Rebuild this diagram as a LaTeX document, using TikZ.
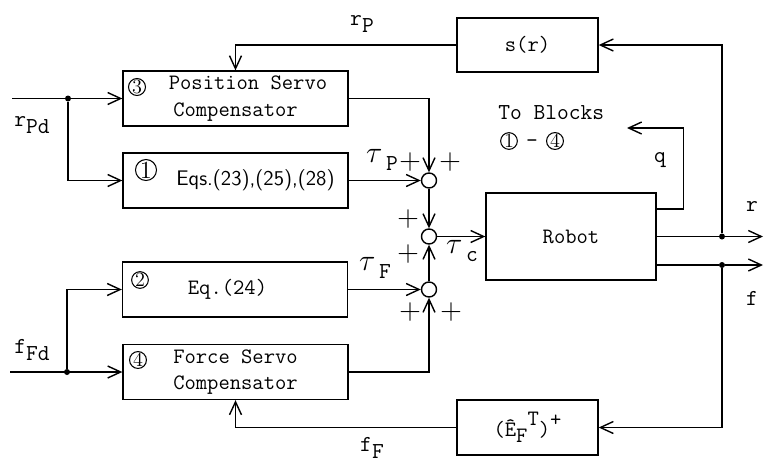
\documentclass[tikz,border=0pt]{standalone}
\usepackage{fontspec}
\usepackage{amsmath}
\usepackage{tikz}
\usetikzlibrary{arrows.meta,positioning,calc}
\newcommand\lb[2]{#1\raisebox{-0.7ex}{#2}}
\newcommand\tu[1]{{\fontsize{16}{16}\selectfont$\tau$}\raisebox{-0.9ex}{\,#1}}

\begin{document}
\begin{tikzpicture}[x=0.02cm,y=-0.02cm,
    p/.style={draw,line width=0.8pt,inner sep=1mm,align=center,font=\fontsize{12.5}{15}\selectfont\ttfamily},
    sj/.style={draw,circle,line width=0.8pt,minimum size=3mm,inner sep=0pt},
    cn/.style={draw,circle,line width=0.6pt,inner sep=0pt,minimum size=3.3mm,font=\fontsize{11.5}{11.5}\selectfont\rmfamily},
    a/.style={-{Straight Barb[length=2.6mm,width=2.4mm]},line width=0.8pt},
    l/.style={line width=0.8pt},
    t/.style={inner sep=0pt,font=\fontsize{13}{15}\selectfont\ttfamily},
    pl/.style={inner sep=0pt,font=\fontsize{17}{17}\selectfont\rmfamily},
    dot/.style={circle,fill,inner sep=0pt,minimum size=1.2mm}]
    \useasboundingbox (0,0) rectangle (764,464);
    % blocks
    \node[p,minimum width=4.5cm,minimum height=1.06cm] (pos) at (235.5,98.5)
      {\hspace*{5mm}Position Servo\\Compensator};
    \node[p,minimum width=4.5cm,minimum height=1.1cm] (eqs) at (235.5,180.5)
      {\hspace*{8mm}\raisebox{-3pt}{\fontsize{12}{13}\selectfont\sffamily Eqs.(23),(25),(28)}};
    \node[p,minimum width=4.5cm,minimum height=1.1cm] (eq24) at (235,289.5) {Eq.(24)\hspace*{3mm}};
    \node[p,minimum width=4.5cm,minimum height=1.08cm] (frc) at (235.5,372)
      {Force Servo\\Compensator};
    \node[p,minimum width=2.82cm,minimum height=1.08cm] (sr) at (527.5,45) {s(r)};
    \node[p,minimum width=3.4cm,minimum height=1.74cm] (robot) at (571,236.5) {Robot};
    \node[p,minimum width=2.82cm,minimum height=1.1cm] (ef) at (527.5,427.5)
      {(\^{E}\raisebox{-0.7ex}{F}\raisebox{1.1ex}{T})\raisebox{1ex}{+}};
    % circled block numbers
    \node[cn] (n3) at (137,87) {3};
    \node[cn,minimum size=4.2mm,font=\fontsize{14}{14}\selectfont\rmfamily] (n1) at (146,170) {1};
    \node[cn] (n2) at (140,280) {2};
    \node[cn] (n4) at (138,360) {4};
    % summing junctions and branch points
    \node[sj] (c1) at (429,180.5) {};
    \node[sj] (c2) at (429,236.5) {};
    \node[sj] (c3) at (429,289.5) {};
    \node[dot] (d1) at (68,98.5) {};
    \node[dot] (d2) at (67,372) {};
    \node[dot] (d3) at (722,236.5) {};
    \node[dot] (d4) at (722,265) {};
    \coordinate (inP) at (12,98.5);
    \coordinate (inF) at (10,372);
    \coordinate (outR) at (763,236.5);
    \coordinate (outF) at (763,265);
    \coordinate (qend) at (627,128);
    % connectors
    \draw[a] (inP) -- (pos.west); \draw[a] (d1) |- (eqs.west);
    \draw[a] (inF) -- (frc.west); \draw[a] (d2) |- (eq24.west);
    \draw[a] (pos.east) -| (c1.north); \draw[a] (eqs.east) -- (c1.west);
    \draw[a] (eq24.east) -- (c3.west); \draw[a] (frc.east) -| (c3.south);
    \draw[a] (c1) -- (c2); \draw[a] (c3) -- (c2); \draw[a] (c2) -- (robot.west);
    \draw[l] (robot.east |- d3) -- (d3); \draw[a] (d3) -- (outR);
    \draw[l] (robot.east |- d4) -- (d4); \draw[a] (d4) -- (outF);
    \draw[a] (robot.east |- 0,209) -- ++(27,0) |- (qend);
    \draw[a] (d3) |- (sr.east); \draw[a] (sr.west) -| (pos.north);
    \draw[a] (d4) |- (ef.east); \draw[a] (ef.west) -| (frc.south);
    % labels
    \node[t] (lrpd) at (32,125) {\lb{r}{Pd}};
    \node[t] (lffd) at (32,350) {\lb{f}{Fd}};
    \node[t] (lrp) at (362,24) {\lb{r}{P}};
    \node[t] (lff) at (372,448) {\lb{f}{F}};
    \node[t] (ltp) at (382,160) {\tu{P}};
    \node[t] (ltf) at (375,268) {\tu{F}};
    \node[t] (ltc) at (462,251) {\tu{c}};
    \node[pl] (p1) at (410,162) {+}; \node[pl] (p2) at (450,162) {+};
    \node[pl] (p3) at (408,219) {+}; \node[pl] (p4) at (408,254) {+};
    \node[pl] (p5) at (410,312) {+}; \node[pl] (p6) at (451,312) {+};
    \node[t] (lr) at (752,207) {r};
    \node[t] (lf) at (752,298) {f};
    \node[t] (lq) at (660,160) {q};
    \node[t,anchor=west] (ltb) at (498,113) {To Blocks};
    \node[cn] (tb1) at (509,141) {1};
    \node[t] (tbd) at (532,144) {-};
    \node[cn] (tb4) at (555,141) {4};
\end{tikzpicture}
\end{document}
